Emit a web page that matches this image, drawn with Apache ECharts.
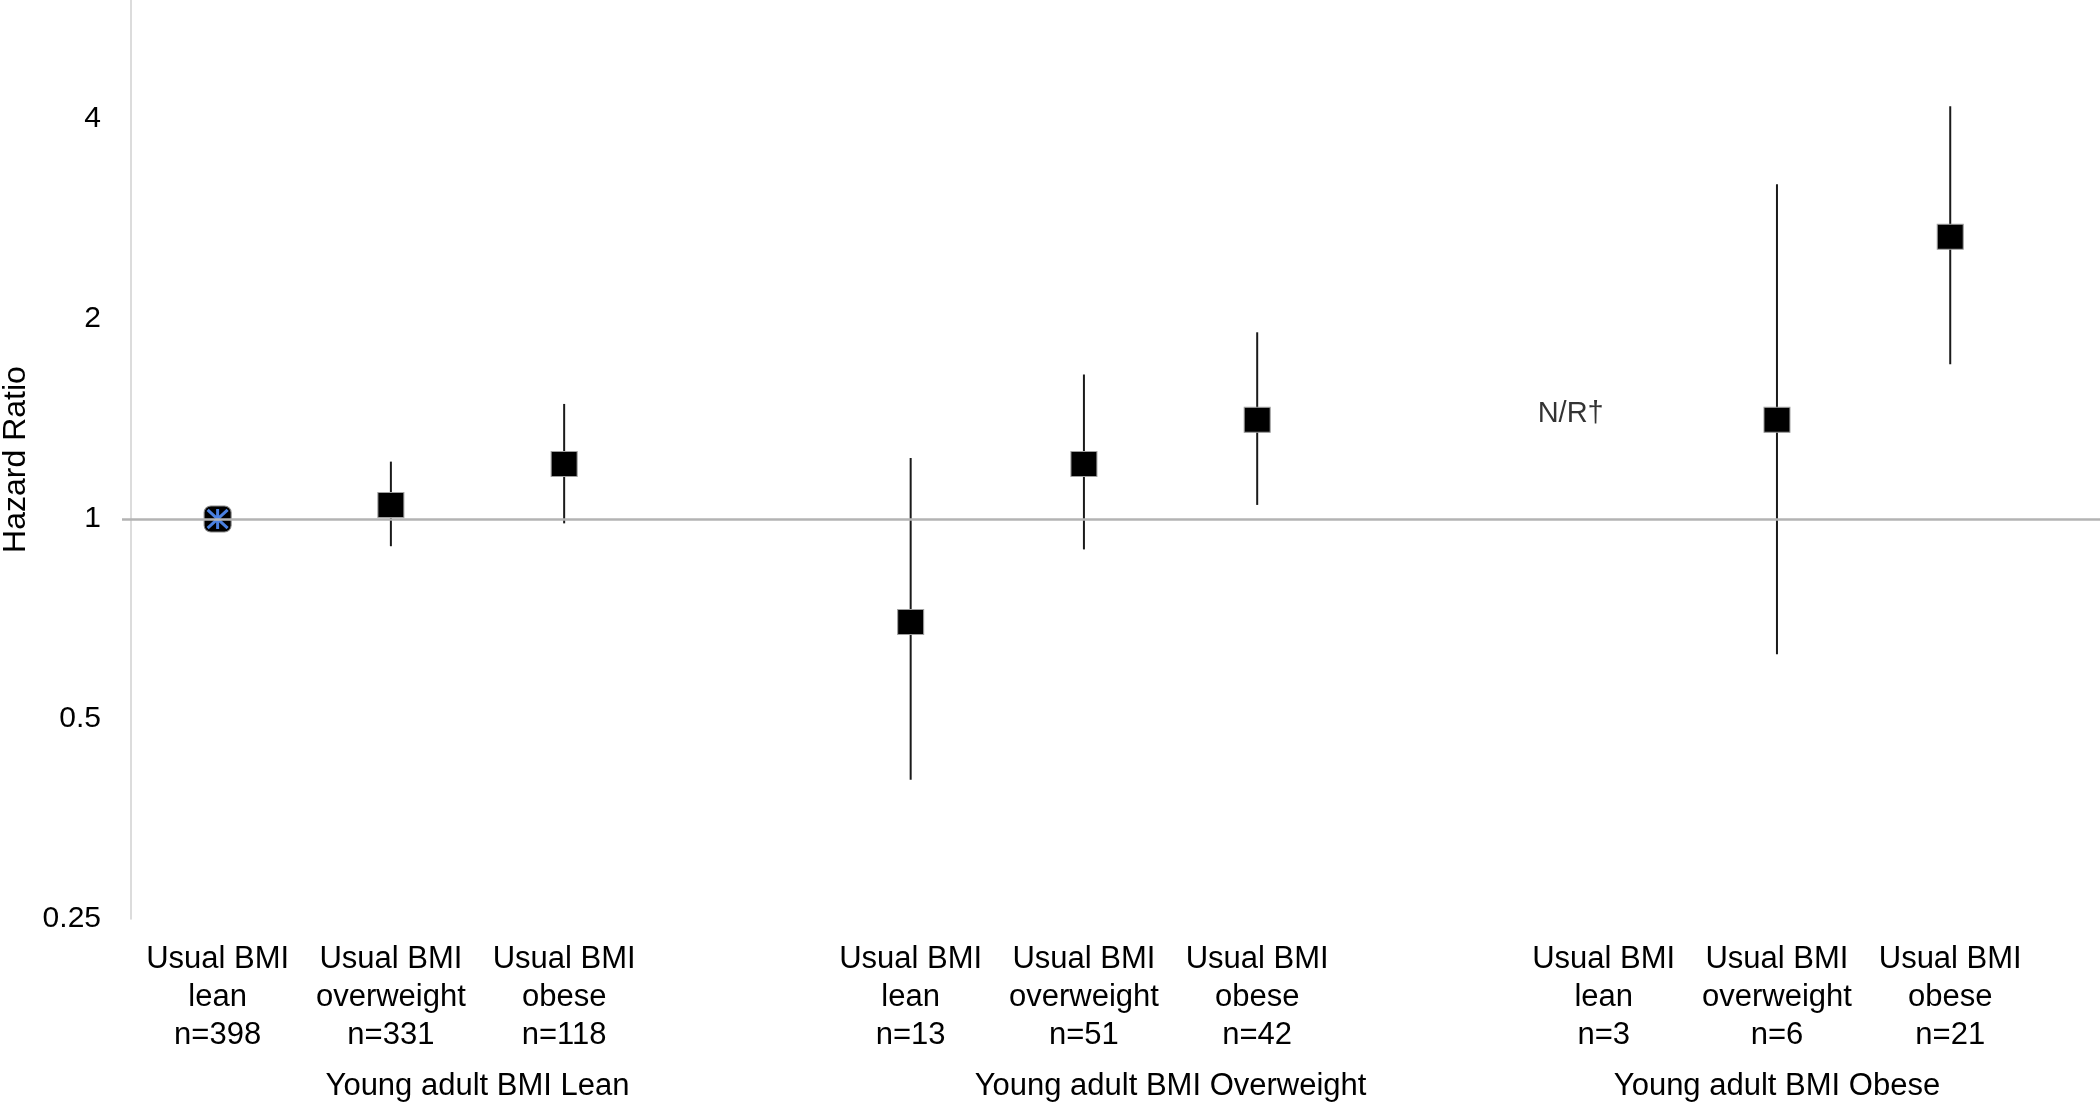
<!DOCTYPE html>
<html>
<head>
<meta charset="utf-8">
<script src="https://cdn.jsdelivr.net/npm/echarts@6/dist/echarts.min.js"></script>
<style>
html,body{margin:0;padding:0;background:#fff;}
#chart{width:2100px;height:1103px;}
</style>
</head>
<body>
<div id="chart"></div>
<script>
// ---- data ----
const categories = [
  "Usual BMI\nlean\nn=398",
  "Usual BMI\noverweight\nn=331",
  "Usual BMI\nobese\nn=118",
  "",
  "Usual BMI\nlean\nn=13",
  "Usual BMI\noverweight\nn=51",
  "Usual BMI\nobese\nn=42",
  "",
  "Usual BMI\nlean\nn=3",
  "Usual BMI\noverweight\nn=6",
  "Usual BMI\nobese\nn=21"
];
const hazardRatio = [1, 1.05, 1.21, null, 0.70, 1.21, 1.41, null, null, 1.41, 2.66];
const ciLower     = [null, 0.91, 0.985, null, 0.405, 0.90, 1.05, null, null, 0.626, 1.71];
const ciUpper     = [null, 1.22, 1.49, null, 1.235, 1.65, 1.91, null, null, 3.19, 4.18];
const referenceIndex = 0;
const groupNames = ["Young adult BMI Lean", "Young adult BMI Overweight", "Young adult BMI Obese"];
const groupRanges = [[0, 3], [4, 7], [8, 10]];
const yTicks = [0.25, 0.5, 1, 2, 4];
const notReportedIndex = 8;
const notReportedText = "N/R\u2020";
const notReportedLevel = 1.44;

// ---- build ----
const FONT = "'Liberation Sans', Arial, sans-serif";
const xMax = 1969 / 173.26;
const pos = i => i + 0.5;

const pointData = [], refData = [], barData = [];
hazardRatio.forEach((v, i) => {
  if (v == null) return;
  if (i === referenceIndex) refData.push([pos(i), v]);
  else pointData.push([pos(i), v]);
});
ciLower.forEach((lo, i) => {
  if (lo == null || ciUpper[i] == null) return;
  barData.push([pos(i), lo, ciUpper[i]]);
});
const groupCenters = groupRanges.map(r => (r[0] + r[1] + 1) / 2);

const chart = echarts.init(document.getElementById('chart'), null, {renderer: 'canvas'});
chart.setOption({
  animation: false,
  backgroundColor: '#ffffff',
  textStyle: {fontFamily: FONT},
  grid: {left: 131, right: 0, top: 0, bottom: 184, containLabel: false, outerBoundsMode: 'none'},
  xAxis: [
    {
      type: 'value', min: 0, max: xMax, interval: 0.5, position: 'bottom',
      axisLine: {show: false}, axisTick: {show: false}, splitLine: {show: false},
      axisLabel: {
        margin: 21, fontSize: 31, lineHeight: 38, color: '#000', fontFamily: FONT,
        showMinLabel: true, showMaxLabel: true,
        formatter: v => {
          const k = v - 0.5;
          if (Math.abs(k - Math.round(k)) < 1e-6) {
            const idx = Math.round(k);
            if (idx >= 0 && idx < categories.length) return categories[idx];
          }
          return '';
        }
      }
    },
    {
      type: 'value', min: 0, max: xMax, interval: 0.5, position: 'bottom', offset: 0,
      axisLine: {show: false}, axisTick: {show: false}, splitLine: {show: false},
      axisLabel: {
        margin: 148, fontSize: 31, lineHeight: 38, color: '#000', fontFamily: FONT,
        formatter: v => {
          const g = groupCenters.findIndex(c => Math.abs(c - v) < 1e-6);
          return g >= 0 ? groupNames[g] : '';
        }
      }
    }
  ],
  yAxis: {
    type: 'log', logBase: 2, min: 0.25, max: Math.pow(2, 519 / 200),
    name: 'Hazard Ratio', nameLocation: 'middle', nameGap: 98,
    nameTextStyle: {fontSize: 32, color: '#000', fontFamily: FONT},
    axisLine: {show: true, lineStyle: {color: '#d0d0d0', width: 1.5}},
    axisTick: {show: true, customValues: [1], length: 9, inside: false,
      lineStyle: {color: '#b3b3b3', width: 2.5}},
    splitLine: {show: false},
    axisLabel: {
      margin: 30, fontSize: 30, color: '#000', fontFamily: FONT,
      formatter: v => {
        const t = yTicks.find(t => Math.abs(t - v) < 1e-6);
        return t != null ? String(t) : '';
      }
    }
  },
  series: [
    {
      type: 'custom', xAxisIndex: 0, z: 1,
      encode: {x: 0, y: [1, 2]},
      renderItem: (params, api) => {
        const x = api.value(0);
        const p1 = api.coord([x, api.value(1)]);
        const p2 = api.coord([x, api.value(2)]);
        return {type: 'line', shape: {x1: p1[0], y1: p1[1], x2: p2[0], y2: p2[1]},
          style: {stroke: '#1a1a1a', lineWidth: 2}};
      },
      data: barData,
      markLine: {
        silent: true, symbol: 'none', label: {show: false},
        lineStyle: {color: '#b3b3b3', width: 2.5, type: 'solid'},
        data: [{yAxis: 1}]
      }
    },
    {
      type: 'scatter', xAxisIndex: 0, z: 3,
      symbol: 'rect', symbolSize: [26, 25],
      itemStyle: {color: '#000', borderColor: '#a0a0a0', borderWidth: 1, opacity: 1},
      data: pointData
    },
    {
      type: 'scatter', xAxisIndex: 0, z: 3,
      symbol: 'roundRect', symbolSize: [27, 26],
      itemStyle: {color: '#000', borderColor: '#888', borderWidth: 1, opacity: 1},
      data: refData
    },
    {
      type: 'scatter', xAxisIndex: 0, z: 4,
      symbol: 'path://M0,0L20,20M20,0L0,20M10,-1L10,21M0,0L0,0',
      symbolSize: [20, 20],
      itemStyle: {color: 'rgba(0,0,0,0)', borderColor: '#4a80e0', borderWidth: 3, opacity: 1},
      data: refData
    },
    {
      type: 'scatter', xAxisIndex: 0, z: 4, symbolSize: 0, silent: true,
      label: {show: true, position: 'left', distance: 0, formatter: notReportedText,
        fontSize: 29, color: '#000', fontFamily: FONT},
      data: [[pos(notReportedIndex), notReportedLevel]]
    }
  ]
});
</script>
</body>
</html>
